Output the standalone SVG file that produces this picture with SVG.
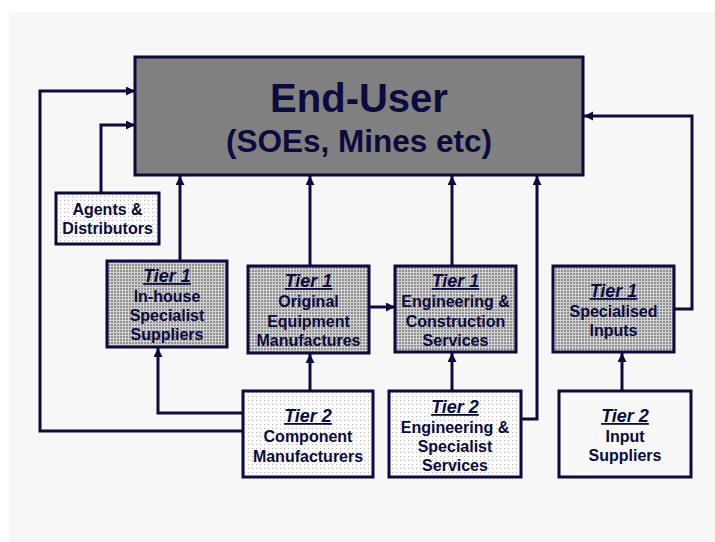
<svg xmlns="http://www.w3.org/2000/svg" width="715" height="542" viewBox="0 0 715 542">
  <defs>
    <pattern id="grid" width="3" height="3" patternUnits="userSpaceOnUse">
      <rect width="3" height="3" fill="#d2d2d2"/>
      <rect width="2" height="2" fill="#909090"/>
    </pattern>
    <pattern id="dots" width="4" height="4" patternUnits="userSpaceOnUse">
      <rect width="4" height="4" fill="#fbfbfb"/>
      <rect width="1" height="1" fill="#b4b4b4"/>
    </pattern>
    <marker id="arr" markerUnits="userSpaceOnUse" markerWidth="10" markerHeight="10" refX="9" refY="4.5" orient="auto">
      <path d="M0,0 L9,4.5 L0,9 z" fill="#0b0b3e"/>
    </marker>
  </defs>
  <style>
    .box { stroke: #0b0b3e; stroke-width: 3; }
    .t1 { fill: url(#grid); }
    .t2 { fill: url(#dots); }
    .plain { fill: #f8f8f8; }
    .conn path { fill: none; stroke: #0b0b3e; stroke-width: 3; marker-end: url(#arr); }
    text { font-family: "Liberation Sans", Arial, sans-serif; font-weight: bold; fill: #0b0b3e; text-anchor: middle; }
    .tier { font-size: 18px; font-style: italic; text-decoration: underline; }
    .body { font-size: 16px; }
  </style>
  <rect x="0" y="0" width="715" height="542" fill="#ffffff"/>
  <rect x="9" y="12" width="706" height="530" fill="#f7f7f7"/>

  <g id="connectors" class="conn">
    <path d="M101,193 V125 H135"/>
    <path d="M243,431 H40 V91 H135"/>
    <path d="M243,413 H158 V348"/>
    <path d="M310,391 V354"/>
    <path d="M180,261 V176"/>
    <path d="M310,266 V176"/>
    <path d="M369,307 H395"/>
    <path d="M452,266 V176"/>
    <path d="M452,391 V353"/>
    <path d="M521,419 H537 V176"/>
    <path d="M674,309 H692 V116 H584"/>
    <path d="M622,391 V353"/>
  </g>

  <g id="end-user">
    <rect class="box" x="135" y="57" width="448" height="118" fill="#808080"/>
    <text x="359" y="112" font-size="40">End-User</text>
    <text x="359" y="152" font-size="31.5">(SOEs, Mines etc)</text>
  </g>

  <g id="agents">
    <rect class="box t2" x="56" y="193" width="103" height="51"/>
    <text class="body" x="107.5" y="215">Agents &amp;</text>
    <text class="body" x="107.5" y="234">Distributors</text>
  </g>

  <g id="t1-inhouse">
    <rect class="box t1" x="107" y="261" width="120" height="86"/>
    <text class="tier" x="167" y="282">Tier 1</text>
    <text class="body" x="167" y="302">In-house</text>
    <text class="body" x="167" y="321">Specialist</text>
    <text class="body" x="167" y="340">Suppliers</text>
  </g>

  <g id="t1-oem">
    <rect class="box t1" x="248" y="266" width="121" height="87"/>
    <text class="tier" x="308.5" y="287">Tier 1</text>
    <text class="body" x="308.5" y="307">Original</text>
    <text class="body" x="308.5" y="327">Equipment</text>
    <text class="body" x="308.5" y="346">Manufactures</text>
  </g>

  <g id="t1-ec">
    <rect class="box t1" x="395" y="266" width="121" height="86"/>
    <text class="tier" x="455.5" y="287">Tier 1</text>
    <text class="body" x="455.5" y="307">Engineering &amp;</text>
    <text class="body" x="455.5" y="327">Construction</text>
    <text class="body" x="455.5" y="346">Services</text>
  </g>

  <g id="t1-specialised">
    <rect class="box t1" x="553" y="266" width="121" height="86"/>
    <text class="tier" x="613.5" y="297">Tier 1</text>
    <text class="body" x="613.5" y="317">Specialised</text>
    <text class="body" x="613.5" y="336">Inputs</text>
  </g>

  <g id="t2-component">
    <rect class="box t2" x="243" y="391" width="130" height="86"/>
    <text class="tier" x="308" y="422">Tier 2</text>
    <text class="body" x="308" y="442">Component</text>
    <text class="body" x="308" y="462">Manufacturers</text>
  </g>

  <g id="t2-engspec">
    <rect class="box t2" x="389" y="391" width="132" height="86"/>
    <text class="tier" x="455" y="413">Tier 2</text>
    <text class="body" x="455" y="433">Engineering &amp;</text>
    <text class="body" x="455" y="452">Specialist</text>
    <text class="body" x="455" y="471">Services</text>
  </g>

  <g id="t2-input">
    <rect class="box plain" x="559" y="391" width="132" height="86"/>
    <text class="tier" x="625" y="422">Tier 2</text>
    <text class="body" x="625" y="442">Input</text>
    <text class="body" x="625" y="461">Suppliers</text>
  </g>
</svg>
